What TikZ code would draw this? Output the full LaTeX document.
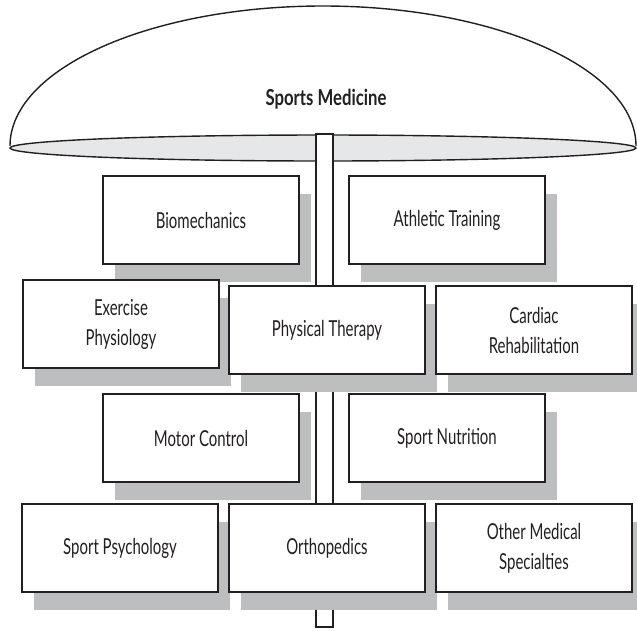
\documentclass[tikz,border=0pt]{standalone}
\usepackage{fontspec}
\setmainfont{Lato}[FakeStretch=0.68]
\newfontfamily\titlefont{Lato}[FakeStretch=0.76]
\usetikzlibrary{shadows}
\definecolor{ink}{HTML}{231F20}
\definecolor{shadowgray}{HTML}{BCBEC0}
\definecolor{bandgray}{HTML}{E6E7E8}
\tikzset{
  x=1pt,y=1pt,
  outline/.style={draw=ink,line width=1.6pt},
  boxnode/.style={outline,fill=white,minimum width=196pt,minimum height=88pt,inner sep=0pt,
    align=center,text=ink,font=\fontsize{22}{30}\selectfont,
    drop shadow={shadow xshift=12pt,shadow yshift=-18pt,fill=shadowgray,opacity=1}},
  titlenode/.style={text=ink,font=\titlefont\fontsize{22}{24}\selectfont\bfseries,inner sep=0pt}
}
\begin{document}
\begin{tikzpicture}
\useasboundingbox (0,0) rectangle (637,-630);
\clip (0,0) rectangle (637,-630);
% umbrella dome
\draw[outline,line width=1.4pt] (10,-146) arc[start angle=180,end angle=0,x radius=313,y radius=140];
\node[titlenode] (sm) at (326,-99) {Sports Medicine};
% umbrella rim
\draw[outline,line width=1.4pt,fill=bandgray] (323,-148) ellipse[x radius=313,y radius=13];
% pole
\draw[outline,fill=white] (316,-134) rectangle (333,-627);
% boxes
\node[boxnode] (bio) at (201,-220) {Biomechanics};
\node[boxnode] (ath) at (447,-220) {Athletic Training};
\node[boxnode] (exp) at (121,-324) {Exercise\\Physiology};
\node[boxnode] (pt)  at (327,-330) {Physical Therapy};
\node[boxnode] (car) at (534,-330) {Cardiac\\Rehabilitation};
\node[boxnode] (mot) at (201,-438) {Motor Control};
\node[boxnode] (nut) at (447,-438) {Sport Nutrition};
\node[boxnode] (psy) at (120,-548) {Sport Psychology};
\node[boxnode] (ort) at (327,-548) {Orthopedics};
\node[boxnode] (oth) at (534,-548) {Other Medical\\Specialties};
\end{tikzpicture}
\end{document}
